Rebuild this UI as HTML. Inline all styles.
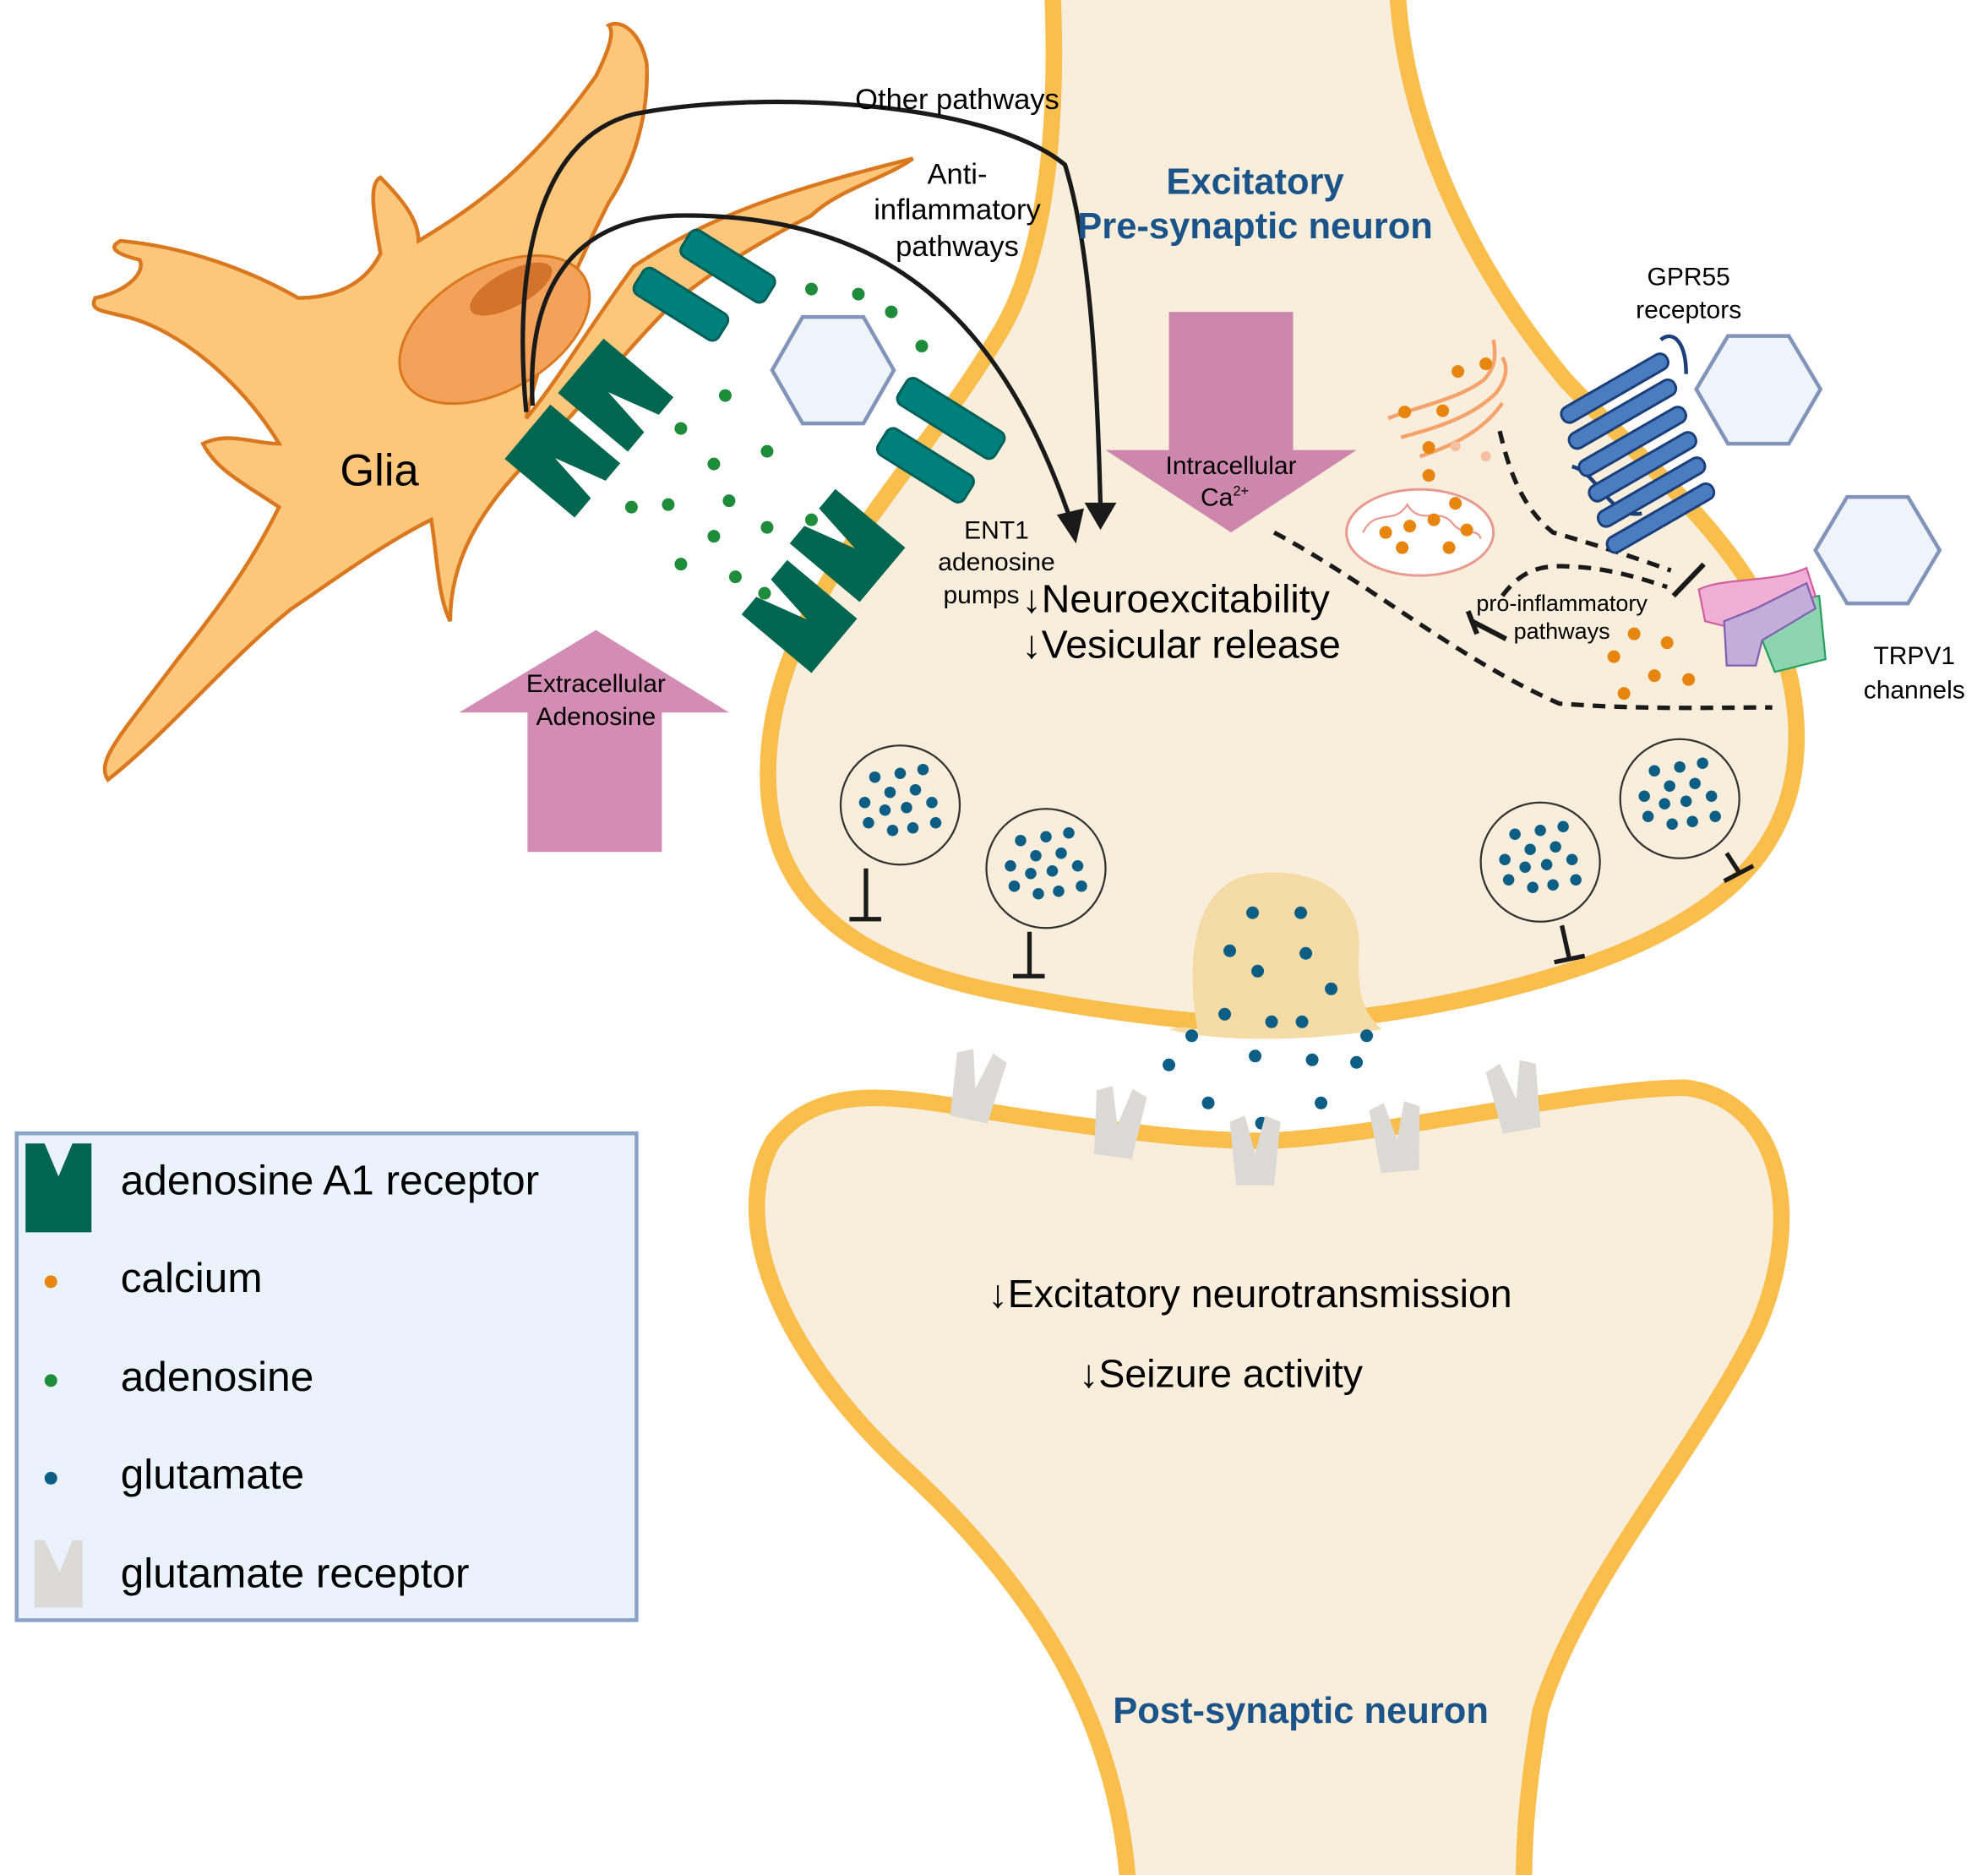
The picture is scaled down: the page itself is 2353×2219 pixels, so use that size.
<!DOCTYPE html>
<html><head><meta charset="utf-8"><style>
html,body{margin:0;padding:0;background:#fff}
svg{display:block}
text{font-family:"Liberation Sans",sans-serif}
</style></head><body>
<svg width="2353" height="2219" viewBox="0 0 1568 1479" xmlns="http://www.w3.org/2000/svg">
<defs>
<g id="vd"><circle cx="-20" cy="-22" r="4.5"/><circle cx="0" cy="-25" r="4.5"/><circle cx="-8" cy="-10" r="4.5"/><circle cx="12" cy="-12" r="4.5"/><circle cx="-28" cy="-2" r="4.5"/><circle cx="-12" cy="4" r="4.5"/><circle cx="5" cy="2" r="4.5"/><circle cx="25" cy="-2" r="4.5"/><circle cx="-25" cy="14" r="4.5"/><circle cx="-6" cy="20" r="4.5"/><circle cx="10" cy="18" r="4.5"/><circle cx="28" cy="14" r="4.5"/><circle cx="18" cy="-28" r="4.5"/></g>
<path id="a1" d="M0,0 L56,0 L56,72 L38,72 L26,30 L20,72 L0,72 Z"/>
</defs>
<rect width="1568" height="1479" fill="#fff"/>
<path d="M830,-10 C835,100 825,200 790,260 C720,380 612,470 606,600 C600,720 690,765 800,785 C880,800 950,808 1000,808 C1100,805 1250,775 1330,725 C1405,680 1422,620 1416,560 C1405,450 1310,380 1235,300 C1160,210 1108,100 1102,-10 Z" fill="#F8EEDB" stroke="#F9BE4B" stroke-width="13"/>
<path d="M890,1490 C882,1360 820,1255 710,1155 C610,1060 575,960 610,900 C650,848 720,868 800,880 C900,895 950,900 1000,900 C1100,895 1250,858 1330,858 C1405,868 1425,960 1385,1050 C1335,1150 1245,1250 1215,1350 C1203,1420 1202,1460 1202,1490 Z" fill="#F8EEDB" stroke="#F9BE4B" stroke-width="13"/>
<path d="M945,815 C935,760 940,700 985,690 C1030,682 1075,700 1072,750 C1070,790 1078,800 1090,812 C1030,822 960,822 922,812 C935,808 945,812 945,815 Z" fill="#F5DCA6"/>
<path d="M415,330 C440,300 470,250 500,210 C560,170 620,150 720,125 C700,140 660,150 640,170 C600,190 560,215 530,240 C490,280 460,320 420,360 C380,400 355,440 355,490 C345,470 345,440 340,410 C300,430 260,460 230,480 C180,520 130,580 85,615 C75,600 95,580 140,520 C180,470 200,440 220,400 C190,380 170,370 160,350 C180,340 200,350 220,350 C190,300 140,260 100,250 C80,245 70,245 75,235 C100,230 115,215 110,205 C90,200 85,195 95,190 C150,195 200,215 235,235 C270,235 290,220 300,200 C295,170 290,145 300,140 C320,160 330,175 330,190 C380,160 420,130 470,60 C480,40 485,25 480,20 C490,15 505,25 510,50 C512,90 500,130 480,160 C460,200 430,260 415,330 Z" fill="#FCC77A" stroke="#D9781E" stroke-width="3"/>
<ellipse cx="390" cy="260" rx="82" ry="48" transform="rotate(-30 390 260)" fill="#F4A259" stroke="#D9781E" stroke-width="2"/>
<ellipse cx="403" cy="228" rx="36" ry="14" transform="rotate(-28 403 228)" fill="#D2742B"/>
<text x="268" y="383" font-size="35">Glia</text>
<g fill="#00807A" stroke="#005F5A" stroke-width="2">
<rect x="535" y="198" width="78" height="24" rx="6" transform="rotate(32 574 210)"/>
<rect x="498" y="228" width="78" height="24" rx="6" transform="rotate(32 537 240)"/>
<rect x="705" y="318" width="90" height="24" rx="6" transform="rotate(32 750 330)"/>
<rect x="690" y="355" width="80" height="24" rx="6" transform="rotate(32 730 367)"/>
</g>
<g fill="#00664F">
<use href="#a1" transform="translate(440,310) rotate(-50)"/>
<use href="#a1" transform="translate(398,362) rotate(-50)"/>
<use href="#a1" transform="translate(714,432) rotate(130)"/>
<use href="#a1" transform="translate(676,488) rotate(130)"/>
</g>
<g fill="#EFF4FB" stroke="#8294B9" stroke-width="3">
<polygon points="633,250 681,250 705,292 681,334 633,334 609,292"/>
<polygon points="1363,265 1411,265 1436,307 1411,350 1363,350 1338,307"/>
<polygon points="1457,392 1505,392 1530,434 1505,476 1457,476 1432,434"/>
</g>
<g fill="#1E8C3A">
<circle cx="640" cy="228" r="5"/><circle cx="677" cy="232" r="5"/><circle cx="703" cy="246" r="5"/><circle cx="727" cy="273" r="5"/><circle cx="572" cy="312" r="5"/><circle cx="537" cy="338" r="5"/><circle cx="605" cy="356" r="5"/><circle cx="563" cy="366" r="5"/><circle cx="575" cy="395" r="5"/><circle cx="498" cy="400" r="5"/><circle cx="527" cy="398" r="5"/><circle cx="563" cy="423" r="5"/><circle cx="605" cy="416" r="5"/><circle cx="640" cy="410" r="5"/><circle cx="537" cy="445" r="5"/><circle cx="580" cy="455" r="5"/><circle cx="603" cy="468" r="5"/>
</g>
<path d="M922,246 L1020,246 L1020,355 L1070,355 L971,420 L872,355 L922,355 Z" fill="#CE87AC"/>
<path d="M470,497 L575,562 L522,562 L522,672 L416,672 L416,562 L362,562 Z" fill="#D38DB5"/>
<text x="971" y="374" font-size="20" text-anchor="middle">Intracellular</text>
<text x="966" y="399" font-size="20" text-anchor="middle">Ca<tspan font-size="11" dy="-8">2+</tspan></text>
<text x="470" y="546" font-size="20" text-anchor="middle">Extracellular</text>
<text x="470" y="572" font-size="20" text-anchor="middle">Adenosine</text>
<g fill="none" stroke="#1a1a1a" stroke-width="3.5">
<path d="M415,325 C405,220 420,110 500,90 C600,70 780,80 840,130 C862,200 866,320 868,400"/>
<path d="M420,320 C415,230 450,170 540,170 C700,170 790,250 845,412"/>
</g>
<path d="M858,398 L868,415 L878,398 Z" fill="#1a1a1a" stroke="#1a1a1a" stroke-width="3"/>
<path d="M836,407 L848,425 L853,403 Z" fill="#1a1a1a" stroke="#1a1a1a" stroke-width="3"/>
<text x="755" y="86" font-size="23" text-anchor="middle">Other pathways</text>
<text x="755" y="145" font-size="23" text-anchor="middle">Anti-</text>
<text x="755" y="173" font-size="23" text-anchor="middle">inflammatory</text>
<text x="755" y="202" font-size="23" text-anchor="middle">pathways</text>
<text x="990" y="153" font-size="29" font-weight="bold" fill="#1B5488" text-anchor="middle">Excitatory</text>
<text x="990" y="188" font-size="29" font-weight="bold" fill="#1B5488" text-anchor="middle">Pre-synaptic neuron</text>
<text x="786" y="425" font-size="20" text-anchor="middle">ENT1</text>
<text x="786" y="450" font-size="20" text-anchor="middle">adenosine</text>
<text x="774" y="476" font-size="20" text-anchor="middle">pumps</text>
<text x="806" y="483" font-size="31">↓Neuroexcitability</text>
<text x="806" y="519" font-size="31">↓Vesicular release</text>
<g fill="none" stroke="#F5A36A" stroke-width="3">
<path d="M1095,330 C1120,320 1150,315 1170,300 C1180,290 1180,280 1178,268"/>
<path d="M1105,345 C1130,338 1160,330 1180,310 C1188,300 1190,290 1185,282"/>
<path d="M1120,360 C1145,352 1170,340 1185,318"/>
</g>
<circle cx="1172" cy="360" r="4" fill="#F8C0A0"/><circle cx="1148" cy="352" r="4" fill="#F8C0A0"/>
<ellipse cx="1120" cy="420" rx="58" ry="34" fill="#fff" stroke="#E89A8E" stroke-width="2"/>
<path d="M1075,420 C1085,400 1100,415 1110,398 C1120,415 1135,400 1145,412 C1155,425 1165,415 1168,425" fill="none" stroke="#E89A8E" stroke-width="1.5"/>
<g fill="#E8850F">
<circle cx="1150" cy="293" r="5"/><circle cx="1172" cy="287" r="5"/><circle cx="1108" cy="325" r="5"/><circle cx="1138" cy="324" r="5"/><circle cx="1127" cy="353" r="5"/><circle cx="1127" cy="375" r="5"/><circle cx="1148" cy="397" r="5"/>
<circle cx="1093" cy="420" r="5"/><circle cx="1112" cy="415" r="5"/><circle cx="1131" cy="410" r="5"/><circle cx="1157" cy="418" r="5"/><circle cx="1106" cy="432" r="5"/><circle cx="1143" cy="432" r="5"/>
<circle cx="1289" cy="500" r="5"/><circle cx="1315" cy="507" r="5"/><circle cx="1273" cy="518" r="5"/><circle cx="1305" cy="533" r="5"/><circle cx="1332" cy="536" r="5"/><circle cx="1281" cy="547" r="5"/>
</g>
<g fill="none" stroke="#1a1a1a" stroke-width="3.5" stroke-dasharray="10,7">
<path d="M1005,420 C1080,460 1150,520 1230,555 C1300,560 1350,558 1398,558"/>
<path d="M1183,340 C1190,370 1200,400 1225,420 C1260,430 1290,440 1318,450"/>
<path d="M1185,470 C1200,450 1215,445 1240,447 C1270,448 1300,458 1315,463"/>
</g>
<g stroke="#1a1a1a" stroke-width="4"><line x1="1320" y1="470" x2="1344" y2="445"/><line x1="1165" y1="500" x2="1158" y2="482"/><line x1="1161" y1="490" x2="1188" y2="504"/></g>
<text x="1232" y="482" font-size="18" text-anchor="middle">pro-inflammatory</text>
<text x="1232" y="504" font-size="18" text-anchor="middle">pathways</text>
<g fill="none" stroke="#1B3F7A" stroke-width="3">
<path d="M1310,268 C1320,260 1330,270 1330,295"/>
<path d="M1240,368 C1260,372 1270,410 1295,405"/>
</g>
<g fill="#4A7CC0" stroke="#1B3F7A" stroke-width="2">
<rect x="1226" y="300" width="95" height="13" rx="6" transform="rotate(-30 1273 306)"/>
<rect x="1232" y="320" width="95" height="13" rx="6" transform="rotate(-30 1280 326)"/>
<rect x="1240" y="342" width="95" height="13" rx="6" transform="rotate(-30 1287 348)"/>
<rect x="1248" y="362" width="95" height="13" rx="6" transform="rotate(-30 1295 368)"/>
<rect x="1255" y="382" width="95" height="13" rx="6" transform="rotate(-30 1302 388)"/>
<rect x="1262" y="402" width="95" height="13" rx="6" transform="rotate(-30 1310 408)"/>
</g>
<text x="1332" y="225" font-size="20" text-anchor="middle">GPR55</text>
<text x="1332" y="251" font-size="20" text-anchor="middle">receptors</text>
<path d="M1380,480 L1435,470 L1440,520 L1400,530 Z" fill="#8DD4B0" stroke="#2AA060" stroke-width="1.5"/>
<path d="M1340,465 C1360,455 1400,460 1425,448 L1432,470 L1385,500 L1345,490 Z" fill="#F1AFD5" stroke="#D060A0" stroke-width="1.5"/>
<path d="M1360,490 L1385,480 L1425,460 L1432,480 L1390,505 L1385,525 L1362,525 Z" fill="#C3AEDA" stroke="#8060B0" stroke-width="1.5"/>
<text x="1510" y="524" font-size="20" text-anchor="middle">TRPV1</text>
<text x="1510" y="551" font-size="20" text-anchor="middle">channels</text>
<g fill="none" stroke="#333" stroke-width="1.5">
<circle cx="710" cy="635" r="47"/><circle cx="825" cy="685" r="47"/><circle cx="1215" cy="680" r="47"/><circle cx="1325" cy="630" r="47"/>
</g>
<g fill="#0D5E85">
<use href="#vd" x="710" y="635"/><use href="#vd" x="825" y="685"/><use href="#vd" x="1215" y="680"/><use href="#vd" x="1325" y="630"/>
</g>
<g stroke="#1a1a1a" stroke-width="3.5">
<line x1="683" y1="685" x2="683" y2="725"/><line x1="670" y1="725" x2="695" y2="725"/>
<line x1="812" y1="735" x2="812" y2="770"/><line x1="799" y1="770" x2="824" y2="770"/>
<line x1="1232" y1="730" x2="1238" y2="757"/><line x1="1226" y1="759" x2="1250" y2="754"/>
<line x1="1362" y1="673" x2="1373" y2="690"/><line x1="1360" y1="695" x2="1383" y2="683"/>
</g>
<g fill="#0D5E85">
<circle cx="988" cy="720" r="5"/><circle cx="1026" cy="720" r="5"/><circle cx="970" cy="750" r="5"/><circle cx="1030" cy="752" r="5"/><circle cx="992" cy="766" r="5"/><circle cx="1050" cy="780" r="5"/><circle cx="966" cy="800" r="5"/><circle cx="1003" cy="806" r="5"/><circle cx="1027" cy="806" r="5"/>
<circle cx="940" cy="817" r="5"/><circle cx="1078" cy="817" r="5"/><circle cx="922" cy="840" r="5"/><circle cx="990" cy="833" r="5"/><circle cx="1035" cy="836" r="5"/><circle cx="1070" cy="838" r="5"/><circle cx="953" cy="870" r="5"/><circle cx="1042" cy="870" r="5"/><circle cx="995" cy="886" r="5"/>
</g>
<g fill="#DCDAD6">
<path d="M0,0 L12,-5 L20,25 L28,-5 L40,0 L35,50 L5,50 Z" transform="translate(755,830) rotate(12)"/>
<path d="M0,0 L12,-5 L20,25 L28,-5 L40,0 L35,50 L5,50 Z" transform="translate(865,860) rotate(8)"/>
<path d="M0,0 L12,-5 L20,25 L28,-5 L40,0 L35,50 L5,50 Z" transform="translate(970,885)"/>
<path d="M0,0 L12,-5 L20,25 L28,-5 L40,0 L35,50 L5,50 Z" transform="translate(1080,876) rotate(-5)"/>
<path d="M0,0 L12,-5 L20,25 L28,-5 L40,0 L35,50 L5,50 Z" transform="translate(1172,846) rotate(-10)"/>
</g>
<text x="986" y="1031" font-size="31" text-anchor="middle">↓Excitatory neurotransmission</text>
<text x="963" y="1094" font-size="31" text-anchor="middle">↓Seizure activity</text>
<text x="1026" y="1359" font-size="29" font-weight="bold" fill="#1B5488" text-anchor="middle">Post-synaptic neuron</text>
<rect x="13" y="894" width="489" height="384" fill="#EAF2FB" stroke="#8BA3C7" stroke-width="3"/>
<path d="M20,902 L35,902 L46,928 L57,902 L72,902 L72,972 L20,972 Z" fill="#00664F"/>
<circle cx="40" cy="1011" r="5" fill="#E8850F"/>
<circle cx="40" cy="1089" r="5" fill="#1E8C3A"/>
<circle cx="40" cy="1166" r="5" fill="#0D5E85"/>
<path d="M27,1215 L35,1215 L47,1240 L57,1215 L65,1215 L65,1268 L27,1268 Z" fill="#DCDAD6"/>
<g font-size="33">
<text x="95" y="942">adenosine A1 receptor</text>
<text x="95" y="1019">calcium</text>
<text x="95" y="1097">adenosine</text>
<text x="95" y="1174">glutamate</text>
<text x="95" y="1252">glutamate receptor</text>
</g>
</svg>
</body></html>
